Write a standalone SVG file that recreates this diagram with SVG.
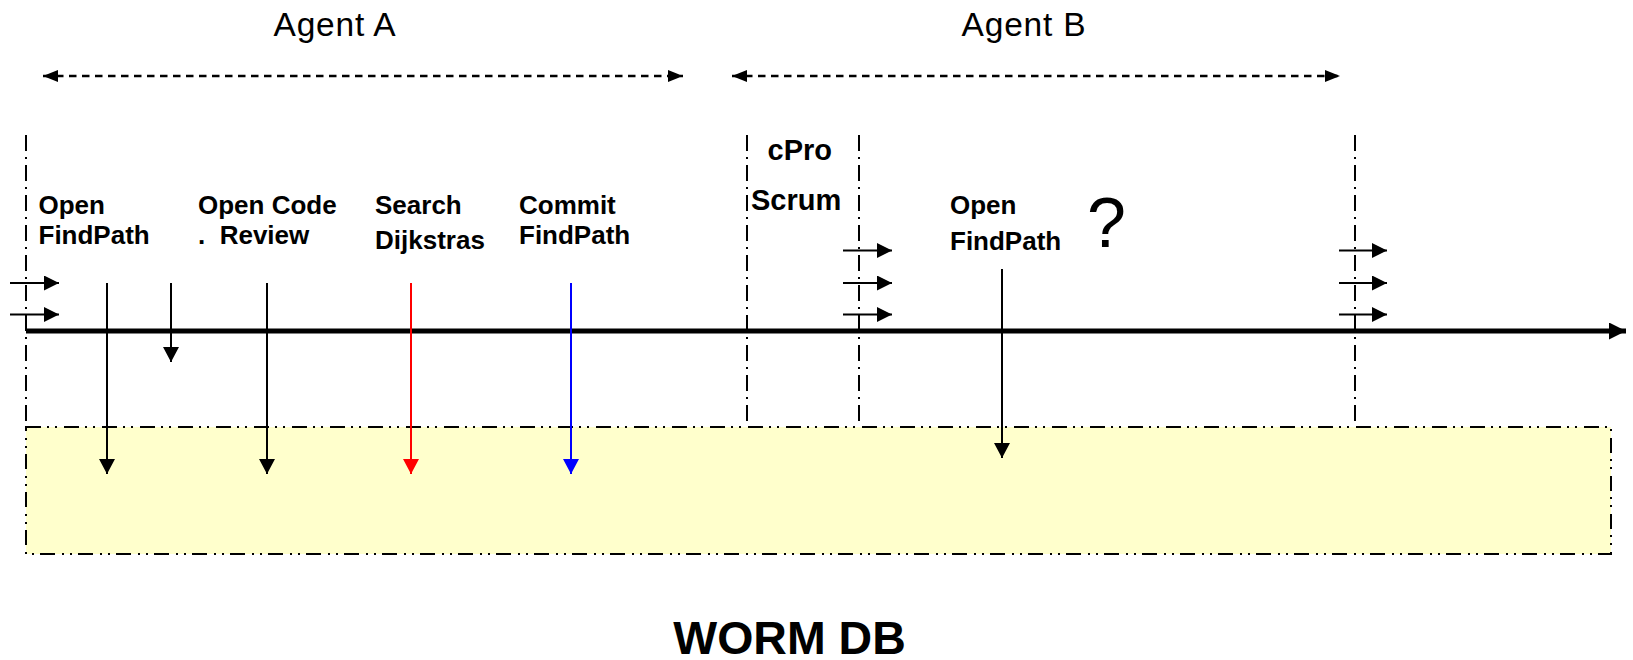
<svg xmlns="http://www.w3.org/2000/svg" width="1633" height="660" viewBox="0 0 1633 660">
  <style>
    .lbl { font-family: "Liberation Sans", Arial, sans-serif; font-weight: bold; font-size: 26px; fill: #000; }
    .big { font-family: "Liberation Sans", Arial, sans-serif; font-weight: bold; font-size: 29px; fill: #000; }
    .agent { font-family: "Liberation Sans", Arial, sans-serif; font-size: 33.5px; letter-spacing: 0.8px; fill: #000; }
    .q { font-family: "Liberation Sans", Arial, sans-serif; font-size: 70px; fill: #000; }
    .title { font-family: "Liberation Sans", Arial, sans-serif; font-weight: bold; font-size: 46.5px; fill: #000; }
    .phase { stroke: #000; stroke-width: 2; stroke-dasharray: 16 6 2 6; fill: none; }
    .span { stroke: #000; stroke-width: 2.5; stroke-dasharray: 7.5 5.5; fill: none; }
    .tick { stroke: #000; stroke-width: 2; fill: none; }
    .call { stroke-width: 2; fill: none; }
  </style>
  <defs>
    <marker id="ah" markerUnits="userSpaceOnUse" markerWidth="15" markerHeight="15" refX="15" refY="7.5" orient="auto">
      <path d="M0,0 L15,7.5 L0,15 z" fill="#000"/>
    </marker>
    <marker id="ahRed" markerUnits="userSpaceOnUse" markerWidth="15" markerHeight="16" refX="15" refY="8" orient="auto">
      <path d="M0,0 L15,8 L0,16 z" fill="#FF0000"/>
    </marker>
    <marker id="ahBlue" markerUnits="userSpaceOnUse" markerWidth="15" markerHeight="16" refX="15" refY="8" orient="auto">
      <path d="M0,0 L15,8 L0,16 z" fill="#0000FF"/>
    </marker>
    <marker id="ahDown" markerUnits="userSpaceOnUse" markerWidth="15" markerHeight="16" refX="15" refY="8" orient="auto">
      <path d="M0,0 L15,8 L0,16 z" fill="#000"/>
    </marker>
    <marker id="ahBig" markerUnits="userSpaceOnUse" markerWidth="17" markerHeight="17" refX="17" refY="8.5" orient="auto">
      <path d="M0,0 L17,8.5 L0,17 z" fill="#000"/>
    </marker>
    <marker id="ahSpan" markerUnits="userSpaceOnUse" markerWidth="15" markerHeight="12" refX="15" refY="6" orient="auto-start-reverse">
      <path d="M0,0 L15,6 L0,12 z" fill="#000"/>
    </marker>
  </defs>

  <!-- storage area -->
  <g id="worm-db">
    <rect x="26" y="427" width="1585" height="127" fill="#FFFFCC" stroke="#000" stroke-width="2" stroke-dasharray="15 6 2 6 2 7"/>
    <text class="title" x="789.5" y="654" text-anchor="middle">WORM DB</text>
  </g>

  <!-- agent spans -->
  <g id="agent-a">
    <text class="agent" x="335" y="36" text-anchor="middle">Agent A</text>
    <line class="span" x1="43" y1="76" x2="683" y2="76" marker-start="url(#ahSpan)" marker-end="url(#ahSpan)"/>
  </g>
  <g id="agent-b">
    <text class="agent" x="1024" y="36" text-anchor="middle">Agent B</text>
    <line class="span" x1="732" y1="76" x2="1340" y2="76" marker-start="url(#ahSpan)" marker-end="url(#ahSpan)"/>
  </g>

  <!-- phase boundaries -->
  <g id="boundaries">
    <line class="phase" x1="26" y1="135" x2="26" y2="427"/>
    <line class="phase" x1="747" y1="135" x2="747" y2="427"/>
    <line class="phase" x1="859" y1="135" x2="859" y2="427"/>
    <line class="phase" x1="1355" y1="135" x2="1355" y2="427"/>
  </g>

  <!-- time axis -->
  <g id="timeline">
    <line x1="26" y1="331" x2="1626" y2="331" stroke="#000" stroke-width="5" marker-end="url(#ahBig)"/>
  </g>

  <!-- labels -->
  <g id="open-findpath-a">
    <text class="lbl" x="38.5" y="214">Open</text>
    <text class="lbl" x="38.5" y="244">FindPath</text>
  </g>
  <g id="open-code-review">
    <text class="lbl" x="198" y="214">Open Code</text>
    <text class="lbl" x="198" y="244" xml:space="preserve">.  Review</text>
  </g>
  <g id="search-dijkstras">
    <text class="lbl" x="375" y="214">Search</text>
    <text class="lbl" x="375" y="249">Dijkstras</text>
  </g>
  <g id="commit-findpath">
    <text class="lbl" x="519" y="214">Commit</text>
    <text class="lbl" x="519" y="244">FindPath</text>
  </g>
  <g id="cpro-scrum">
    <text class="big" x="767.5" y="160">cPro</text>
    <text class="big" x="751" y="210">Scrum</text>
  </g>
  <g id="open-findpath-b">
    <text class="lbl" x="950" y="214">Open</text>
    <text class="lbl" x="950" y="250">FindPath</text>
    <text class="q" x="1087" y="247">?</text>
  </g>

  <!-- connectors -->
  <g id="connectors">
    <!-- carried-over state -->
    <line class="tick" x1="10" y1="283" x2="59" y2="283" marker-end="url(#ah)"/>
    <line class="tick" x1="10" y1="314.5" x2="59" y2="314.5" marker-end="url(#ah)"/>
    <line class="tick" x1="843" y1="250.5" x2="892" y2="250.5" marker-end="url(#ah)"/>
    <line class="tick" x1="843" y1="283" x2="892" y2="283" marker-end="url(#ah)"/>
    <line class="tick" x1="843" y1="314.5" x2="892" y2="314.5" marker-end="url(#ah)"/>
    <line class="tick" x1="1339" y1="250.5" x2="1387" y2="250.5" marker-end="url(#ah)"/>
    <line class="tick" x1="1339" y1="283" x2="1387" y2="283" marker-end="url(#ah)"/>
    <line class="tick" x1="1339" y1="314.5" x2="1387" y2="314.5" marker-end="url(#ah)"/>

    <!-- writes -->
    <line class="call" stroke="#000" x1="107" y1="283" x2="107" y2="474" marker-end="url(#ahDown)"/>
    <line class="call" stroke="#000" x1="171" y1="283" x2="171" y2="362" marker-end="url(#ahDown)"/>
    <line class="call" stroke="#000" x1="267" y1="283" x2="267" y2="474" marker-end="url(#ahDown)"/>
    <line class="call" stroke="#FF0000" x1="411" y1="283" x2="411" y2="474" marker-end="url(#ahRed)"/>
    <line class="call" stroke="#0000FF" x1="571" y1="283" x2="571" y2="474" marker-end="url(#ahBlue)"/>
    <line class="call" stroke="#000" x1="1002" y1="269" x2="1002" y2="458" marker-end="url(#ahDown)"/>
  </g>
</svg>
